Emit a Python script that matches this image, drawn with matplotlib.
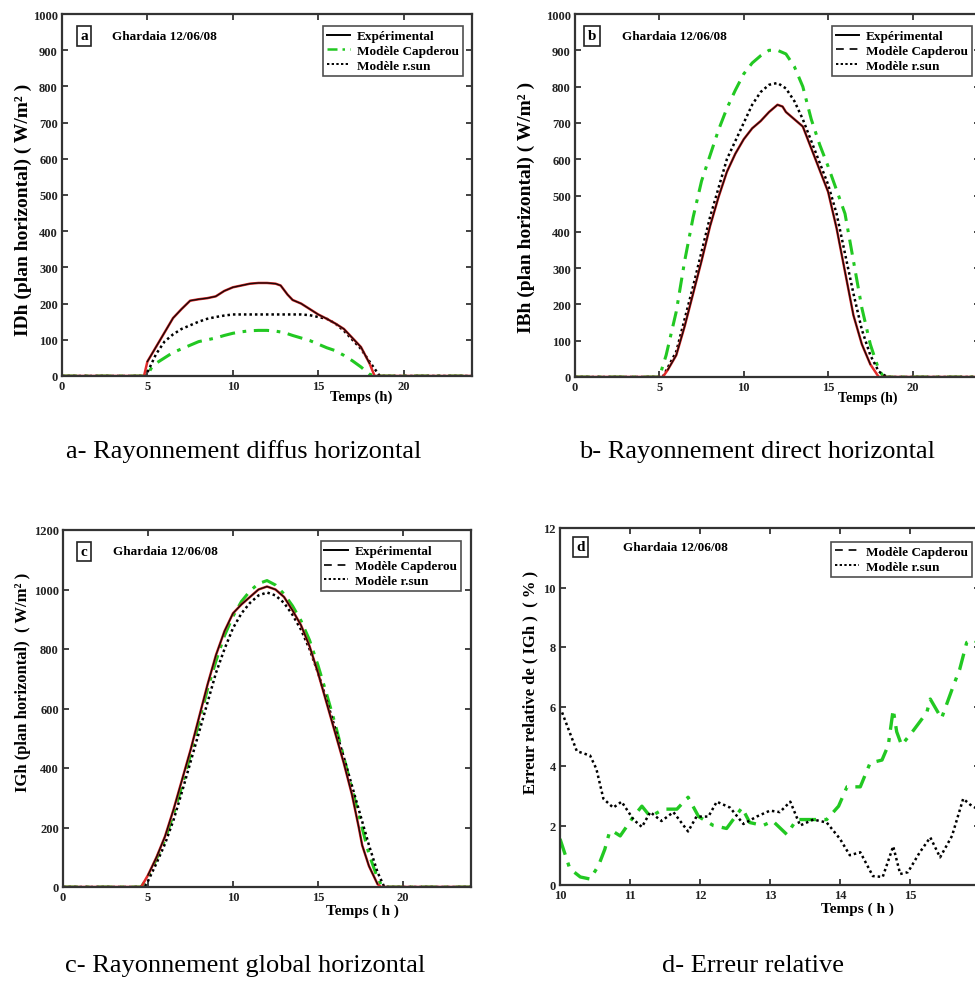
import numpy as np
import matplotlib
matplotlib.use("Agg")
import matplotlib.pyplot as plt
from matplotlib.lines import Line2D

plt.rcParams['font.family'] = ['Liberation Serif', 'DejaVu Serif']

# ------------------------------
# Data
# ------------------------------
# a - diffuse horizontal (W/m2)
a_exp_t = [0, 4.8, 5.0, 5.5, 6.0, 6.5, 7.0, 7.5, 8.0, 8.5, 9.0, 9.5, 10.0, 10.5, 11.0, 11.5,
           12.0, 12.5, 12.8, 13.2, 13.5, 14.0, 14.5, 15.0, 15.5, 16.0, 16.5, 17.0, 17.5, 18.0, 18.3, 24]
a_exp_v = [0, 0, 40, 80, 120, 160, 185, 208, 212, 215, 220, 235, 245, 250, 255, 257,
           257, 255, 250, 225, 210, 200, 185, 170, 158, 145, 130, 105, 80, 35, 0, 0]
a_cap_t = [0, 5.0, 5.2, 5.5, 6.0, 6.5, 7.0, 7.5, 8.0, 8.5, 9.0, 9.5, 10.0, 10.5, 11.0, 11.5,
           12.0, 12.5, 13.0, 13.5, 14.0, 14.5, 15.0, 15.5, 16.0, 16.5, 17.0, 17.5, 18.0, 18.3, 24]
a_cap_v = [0, 0, 20, 35, 50, 65, 75, 85, 95, 100, 105, 112, 118, 122, 125, 126,
           126, 124, 120, 112, 105, 98, 88, 78, 70, 57, 42, 25, 5, 0, 0]
a_rsun_t = [0, 4.9, 5.5, 6.0, 6.5, 7.0, 7.5, 8.0, 8.5, 9.0, 9.5, 10.0, 11.0, 12.0, 13.0, 14.0,
            14.5, 15.0, 15.5, 16.0, 16.5, 17.0, 17.5, 18.0, 18.6, 24]
a_rsun_v = [0, 0, 60, 95, 115, 130, 140, 150, 158, 163, 167, 170, 170, 170, 170, 170,
            168, 163, 158, 145, 125, 100, 75, 40, 0, 0]

# b - direct horizontal (W/m2)
b_exp_t = [0, 5.2, 5.5, 6.0, 6.5, 7.0, 7.5, 8.0, 8.5, 9.0, 9.5, 10.0, 10.5, 11.0, 11.5, 12.0,
           12.3, 12.5, 13.0, 13.5, 14.0, 14.5, 15.0, 15.5, 16.0, 16.5, 17.0, 17.5, 18.0, 24]
b_exp_v = [0, 0, 20, 60, 140, 230, 320, 415, 495, 565, 615, 655, 685, 705, 730, 750,
           745, 730, 710, 690, 630, 570, 510, 410, 290, 170, 90, 35, 0, 0]
b_cap_t = [0, 5.0, 5.4, 6.0, 6.5, 7.0, 7.5, 8.0, 8.5, 9.0, 9.5, 10.0, 10.5, 11.0, 11.5, 12.0,
           12.5, 13.0, 13.5, 14.0, 14.5, 15.0, 15.5, 16.0, 16.5, 17.0, 17.5, 18.0, 18.3, 24]
b_cap_v = [0, 0, 60, 180, 320, 440, 540, 610, 680, 740, 790, 835, 865, 885, 900, 900,
           890, 855, 800, 710, 640, 580, 515, 450, 320, 190, 90, 20, 0, 0]
b_rsun_t = [0, 5.2, 6.0, 7.0, 8.0, 9.0, 10.0, 10.5, 11.0, 11.5, 12.0, 12.5, 13.0, 13.5, 14.0,
            14.5, 15.0, 15.5, 16.0, 16.5, 17.0, 17.5, 18.0, 18.5, 24]
b_rsun_v = [0, 0, 70, 250, 440, 600, 700, 750, 785, 805, 810, 795, 760, 710, 650,
            590, 530, 450, 340, 230, 130, 60, 15, 0, 0]

# c - global horizontal (W/m2)
c_exp_t = [0, 4.6, 5.0, 5.5, 6.0, 6.5, 7.0, 7.5, 8.0, 8.5, 9.0, 9.5, 10.0, 10.5, 11.0, 11.5, 12.0,
           12.5, 13.0, 13.5, 14.0, 14.5, 15.0, 15.5, 16.0, 16.5, 17.0, 17.4, 17.6, 18.0, 18.5, 18.7, 24]
c_exp_v = [0, 0, 40, 100, 170, 260, 360, 460, 570, 680, 780, 860, 920, 950, 975, 1000, 1010,
           1000, 975, 930, 880, 810, 720, 620, 520, 420, 310, 200, 140, 70, 10, 0, 0]
c_cap_t = [0, 4.6, 5.0, 5.5, 6.0, 6.5, 7.0, 7.5, 8.0, 8.5, 9.0, 9.5, 10.0, 10.5, 11.0, 11.5, 12.0,
           12.5, 13.0, 13.5, 14.0, 14.5, 15.0, 15.5, 16.0, 16.5, 17.0, 17.5, 18.0, 18.5, 18.8, 24]
c_cap_v = [0, 0, 35, 95, 160, 245, 340, 445, 555, 665, 760, 845, 910, 960, 995, 1020, 1030,
           1015, 985, 945, 895, 830, 745, 650, 550, 440, 330, 220, 110, 30, 0, 0]
c_rsun_t = [0, 4.8, 5.0, 5.5, 6.0, 6.5, 7.0, 7.5, 8.0, 8.5, 9.0, 9.5, 10.0, 10.5, 11.0, 11.5, 12.0,
            12.5, 13.0, 13.5, 14.0, 14.5, 15.0, 15.5, 16.0, 16.5, 17.0, 17.5, 18.0, 18.5, 18.9, 24]
c_rsun_v = [0, 0, 20, 80, 145, 225, 320, 420, 520, 620, 720, 800, 870, 920, 955, 980, 990,
            980, 955, 915, 865, 800, 720, 630, 535, 440, 340, 240, 140, 50, 0, 0]

# d - relative error on IGh (%)
d_cap_t = [10.0, 10.14, 10.29, 10.43, 10.55, 10.64, 10.71, 10.76, 10.86, 11.05, 11.17, 11.29,
           11.48, 11.67, 11.83, 11.98, 12.19, 12.38, 12.6, 12.71, 12.9, 13.04, 13.24, 13.38,
           13.57, 13.81, 13.98, 14.1, 14.29, 14.43, 14.6, 14.69, 14.76, 14.81, 14.88, 15.05,
           15.24, 15.29, 15.45, 15.62, 15.71, 15.81, 15.9, 16.0]
d_cap_v = [1.55, 0.55, 0.27, 0.2, 0.65, 1.2, 1.8, 1.8, 1.65, 2.3, 2.65, 2.3,
           2.55, 2.55, 2.95, 2.3, 2.0, 1.9, 2.6, 2.1, 2.0, 2.15, 1.7, 2.2,
           2.2, 2.2, 2.65, 3.3, 3.3, 4.1, 4.2, 4.7, 5.9, 5.15, 4.7, 5.2,
           5.8, 6.25, 5.6, 6.7, 7.25, 8.15, 8.25, 8.1]
d_rsun_t = [10.03, 10.24, 10.43, 10.52, 10.62, 10.76, 10.88, 11.05, 11.17, 11.29, 11.45, 11.62,
            11.83, 11.95, 12.12, 12.24, 12.43, 12.62, 12.81, 13.0, 13.14, 13.29, 13.43, 13.62,
            13.81, 14.0, 14.14, 14.29, 14.47, 14.61, 14.76, 14.86, 14.97, 15.14, 15.29, 15.43,
            15.6, 15.76, 15.86, 15.93, 16.0]
d_rsun_v = [5.8, 4.5, 4.35, 3.9, 2.9, 2.6, 2.8, 2.2, 1.95, 2.45, 2.15, 2.45,
            1.8, 2.3, 2.3, 2.8, 2.6, 2.05, 2.3, 2.5, 2.45, 2.8, 2.0, 2.2,
            2.1, 1.55, 1.0, 1.1, 0.3, 0.27, 1.3, 0.37, 0.43, 1.1, 1.6, 0.93,
            1.65, 2.9, 2.7, 2.6, 2.5]

captions = ["a- Rayonnement diffus horizontal", "b- Rayonnement direct horizontal",
            "c- Rayonnement global horizontal", "d- Erreur relative"]
site_label = "Ghardaia 12/06/08"

GREEN = "#22c822"
RED = "#e02a2a"
TICKFONT = dict(family='Liberation Serif', weight='bold', size=9)

W, H = 975, 987
fig = plt.figure(figsize=(W / 100, H / 100), dpi=100)


def px_axes(left, top, right, bottom):
    # axes from pixel box of the reference
    return fig.add_axes([left / W, 1 - bottom / H, (right - left) / W, (bottom - top) / H])


def style_axes(ax, xticks, yticks, xlim, ylim):
    ax.set_xlim(*xlim)
    ax.set_ylim(*ylim)
    ax.set_xticks(xticks)
    ax.set_yticks(yticks)
    ax.tick_params(direction='in', top=True, right=True, length=4, width=1.2,
                   pad=3, colors='#222222')
    for lab in ax.get_xticklabels() + ax.get_yticklabels():
        lab.set_fontproperties(TICKFONT)
    for s in ax.spines.values():
        s.set_linewidth(1.6)
        s.set_color('#333333')


def set_ylab(ax, text, size, x, y):
    ax.set_ylabel(text, fontsize=size, fontweight='bold')
    ax.yaxis.set_label_coords(x, y)


def panel_tag(ax, letter, x_box, x_site, y):
    ax.text(x_box, y, letter, transform=ax.transAxes, ha='center', va='center',
            fontsize=11, fontweight='bold',
            bbox=dict(boxstyle='square,pad=0.22', fc='white', ec='#222222', lw=1.2))
    ax.text(x_site, y, site_label, transform=ax.transAxes, ha='left', va='center',
            fontsize=9.5, fontweight='bold')


def plot_exp(ax, t, v):
    t = np.array(t, dtype=float)
    v = np.array(v, dtype=float)
    ax.plot(t, v, color=RED, lw=1.8)
    ax.plot(t, np.ma.masked_where(v <= 0, v), color='#1a0a0a', lw=1.0)


def add_legend(ax, handles, labels, anchor):
    leg = ax.legend(handles, labels, loc='upper right', bbox_to_anchor=anchor,
                    prop=dict(family='Liberation Serif', weight='bold', size=9.5),
                    frameon=True, fancybox=False, handlelength=1.8, handletextpad=0.5,
                    borderpad=0.3, labelspacing=0.2, borderaxespad=0)
    leg.get_frame().set_edgecolor('#222222')
    leg.get_frame().set_linewidth(1.2)


h_exp = Line2D([], [], color='black', lw=1.4)
h_cap_g = Line2D([], [], color=GREEN, lw=1.8, ls=(0, (4, 2, 1, 2)))
h_cap_k = Line2D([], [], color='#222222', lw=1.4, ls=(0, (4, 3)))
h_rsun = Line2D([], [], color='black', lw=1.4, ls=(0, (1.2, 1.2)))

# ------------------------------
# a - diffus
# ------------------------------
ax = px_axes(62, 15, 472, 377)
ax.plot(a_cap_t, a_cap_v, color=GREEN, lw=2.2, ls=(0, (5, 2.5, 1.2, 2.5)))
ax.plot(a_rsun_t, a_rsun_v, color='black', lw=1.8, ls=(0, (1, 1.2)))
plot_exp(ax, a_exp_t, a_exp_v)
style_axes(ax, range(0, 21, 5), range(0, 1001, 100), (0, 24), (0, 1000))
set_ylab(ax, "IDh (plan horizontal) ( W/m² )", 14, -0.072, 0.461)
ax.text(17.5, -0.055, "Temps (h)", transform=ax.get_xaxis_transform(), ha='center', va='center',
        fontsize=10.5, fontweight='bold')
panel_tag(ax, 'a', 0.054, 0.122, 0.94)
add_legend(ax, [h_exp, h_cap_g, h_rsun], ["Expérimental", "Modèle Capderou", "Modèle r.sun"],
           (0.978, 0.967))

# ------------------------------
# b - direct
# ------------------------------
ax = px_axes(575, 15, 980, 378)
ax.plot(b_cap_t, b_cap_v, color=GREEN, lw=2.2, ls=(0, (5, 2.5, 1.2, 2.5)))
ax.plot(b_rsun_t, b_rsun_v, color='black', lw=1.8, ls=(0, (1, 1.2)))
plot_exp(ax, b_exp_t, b_exp_v)
style_axes(ax, range(0, 21, 5), range(0, 1001, 100), (0, 24), (0, 1000))
set_ylab(ax, "IBh (plan horizontal) ( W/m² )", 14, -0.099, 0.47)
ax.text(17.35, -0.055, "Temps (h)", transform=ax.get_xaxis_transform(), ha='center', va='center',
        fontsize=10, fontweight='bold')
panel_tag(ax, 'b', 0.042, 0.116, 0.94)
add_legend(ax, [h_exp, h_cap_k, h_rsun], ["Expérimental", "Modèle Capderou", "Modèle r.sun"],
           (0.98, 0.967))

# ------------------------------
# c - global
# ------------------------------
ax = px_axes(63, 531, 471, 888)
ax.plot(c_cap_t, c_cap_v, color=GREEN, lw=2.2, ls=(0, (5, 2.5, 1.2, 2.5)))
ax.plot(c_rsun_t, c_rsun_v, color='black', lw=1.8, ls=(0, (1, 1.2)))
plot_exp(ax, c_exp_t, c_exp_v)
style_axes(ax, range(0, 21, 5), range(0, 1201, 200), (0, 24), (0, 1200))
set_ylab(ax, "IGh (plan horizontal)  ( W/m² )", 12, -0.078, 0.577)
ax.set_xlabel("Temps ( h )", fontsize=11, fontweight='bold', labelpad=0, x=0.735)
panel_tag(ax, 'c', 0.052, 0.123, 0.94)
add_legend(ax, [h_exp, h_cap_k, h_rsun], ["Expérimental", "Modèle Capderou", "Modèle r.sun"],
           (0.975, 0.969))

# ------------------------------
# d - erreur relative
# ------------------------------
ax = px_axes(560, 529, 980, 886)
ax.plot(d_cap_t, d_cap_v, color=GREEN, lw=2.4, ls=(0, (5, 2.5, 1.2, 2.5)))
ax.plot(d_rsun_t, d_rsun_v, color='black', lw=1.8, ls=(0, (1, 1.2)))
style_axes(ax, range(10, 17), range(0, 13, 2), (10, 16), (0, 12))
set_ylab(ax, "Erreur relative de ( IGh )  ( % )", 12, -0.052, 0.569)
ax.set_xlabel("Temps ( h )", fontsize=11, fontweight='bold', labelpad=0, x=0.707)
panel_tag(ax, 'd', 0.048, 0.15, 0.947)
add_legend(ax, [h_cap_k, h_rsun], ["Modèle Capderou", "Modèle r.sun"], (0.98, 0.961))

# ------------------------------
# Captions under each panel
# ------------------------------
cap_font = dict(family='Liberation Serif', size=19, ha='center', va='center')
fig.text(244 / W, 1 - 452 / H, captions[0], **cap_font)
fig.text(757 / W, 1 - 452 / H, captions[1], **cap_font)
fig.text(245 / W, 1 - 966 / H, captions[2], **cap_font)
fig.text(753 / W, 1 - 966 / H, captions[3], **cap_font)

fig.savefig("out.png", dpi=100, facecolor='white')
